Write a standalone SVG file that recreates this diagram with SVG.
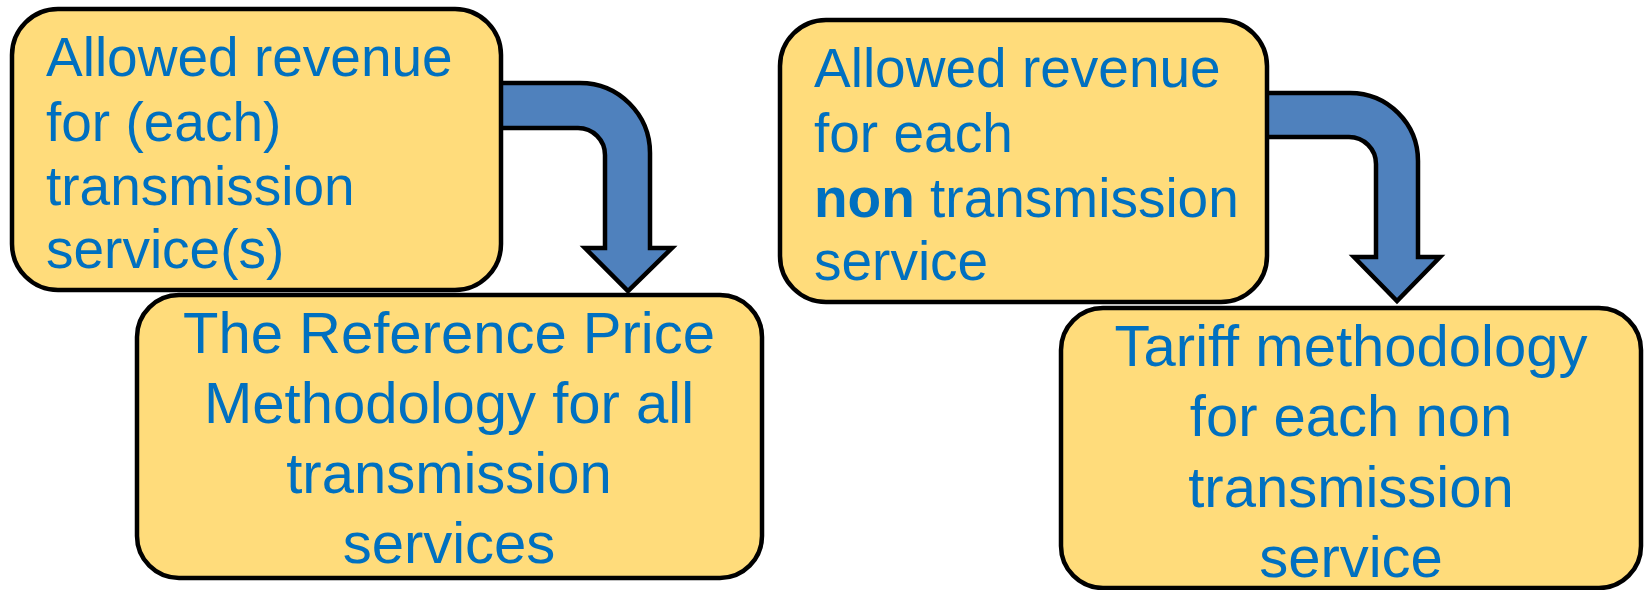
<svg xmlns="http://www.w3.org/2000/svg" width="1646" height="590" viewBox="0 0 1646 590">
<style>
.box{fill:#FFDC7B;stroke:#000;stroke-width:4.5}
.arr{fill:#4F81BD;stroke:#000;stroke-width:4.5;stroke-linejoin:miter}
.t{font-family:"Liberation Sans",Arial,sans-serif;fill:#0070C0}
.s{font-size:55px}
.b{font-size:58px;text-anchor:middle}
</style>
<rect width="1646" height="590" fill="#fff"/>
<g id="connectors">
<path class="arr" d="M 495 83 H 580 A 70 70 0 0 1 650 153 V 248 H 672 L 628 291 L 585 248 H 605 V 155 A 27 27 0 0 0 578 128 H 495 Z"/>
<path class="arr" d="M 1262 93 H 1350 A 68 68 0 0 1 1418 161 V 257 H 1440 L 1397 301 L 1354 257 H 1376 V 164 A 27 27 0 0 0 1349 137 H 1262 Z"/>
</g>
<g id="node1">
<rect class="box" x="12" y="9" width="489" height="281" rx="46"/>
<text class="t s" x="46"><tspan x="46" y="76">Allowed revenue</tspan><tspan x="46" y="141">for (each)</tspan><tspan x="46" y="205">transmission</tspan><tspan x="46" y="268">service(s)</tspan></text>
</g>
<g id="node2">
<rect class="box" x="137" y="295" width="625" height="283" rx="42"/>
<text class="t b"><tspan x="449" y="353">The Reference Price</tspan><tspan x="449" y="423">Methodology for all</tspan><tspan x="449" y="493">transmission</tspan><tspan x="449" y="563">services</tspan></text>
</g>
<g id="node3">
<rect class="box" x="780" y="20" width="487" height="282" rx="46"/>
<text class="t s"><tspan x="814" y="87">Allowed revenue</tspan><tspan x="814" y="152">for each</tspan><tspan x="814" y="217"><tspan font-weight="bold">non</tspan> transmission</tspan><tspan x="814" y="280">service</tspan></text>
</g>
<g id="node4">
<rect class="box" x="1061" y="308" width="580" height="280" rx="42"/>
<text class="t b"><tspan x="1351" y="366">Tariff methodology</tspan><tspan x="1351" y="436">for each non</tspan><tspan x="1351" y="507">transmission</tspan><tspan x="1351" y="577">service</tspan></text>
</g>
</svg>
